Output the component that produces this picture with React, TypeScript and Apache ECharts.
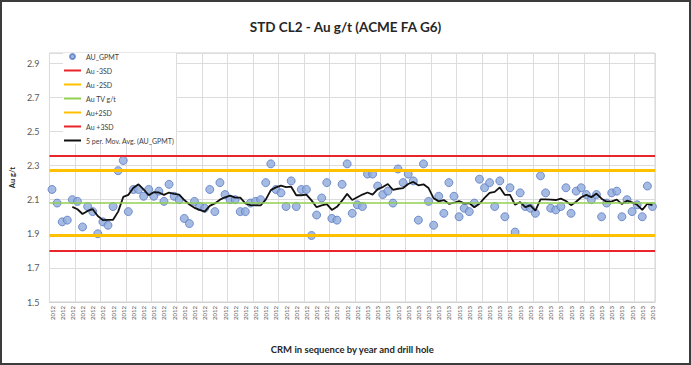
import React, { useEffect, useRef } from "react";
import * as echarts from "echarts";

const years = ["2012", "2013"];
const yearCounts = [62, 57];

const auGpmt = [
  2.16, 2.08, 1.97, 1.98, 2.10, 2.09, 1.94, 2.06, 2.03, 1.90,
  1.97, 1.95, 2.06, 2.27, 2.33, 2.03, 2.16, 2.16, 2.12, 2.16,
  2.12, 2.15, 2.09, 2.19, 2.12, 2.10, 1.99, 1.96, 2.09, 2.06,
  2.05, 2.16, 2.03, 2.20, 2.13, 2.10, 2.10, 2.03, 2.03, 2.08,
  2.09, 2.10,
  2.20, 2.31, 2.16, 2.14, 2.06, 2.21, 2.06, 2.16, 2.16, 1.89,
  2.01, 2.11, 2.20, 1.99, 1.98, 2.19, 2.31, 2.02, 2.07, 2.06,
  2.25, 2.25, 2.18, 2.13, 2.15, 2.08, 2.28, 2.20, 2.25, 2.21,
  1.98, 2.31, 2.09, 1.95, 2.12, 2.02, 2.20, 2.12, 2.00,
  2.05, 2.03, 2.08, 2.22, 2.17, 2.20, 2.06, 2.21, 2.00, 2.17,
  1.91, 2.14, 2.06, 2.05, 2.02, 2.24, 2.14, 2.05, 2.04, 2.06,
  2.17, 2.02, 2.15, 2.17, 2.13, 2.10, 2.13, 2.00, 2.08, 2.14,
  2.15, 2.00, 2.10, 2.03, 2.07, 2.00, 2.18, 2.06,
];

const limitNames = ["Au -3SD", "Au -2SD", "Au TV g/t", "Au+2SD", "Au +3SD"];
const limitValues = [1.80, 1.893, 2.08, 2.267, 2.36];
const limitColors = ["#e8252a", "#ffc000", "#92d050", "#ffc000", "#e8252a"];
const limitWidths = [2, 3, 1.5, 3, 2];

const maPeriod = 5;
const maName = "5 per. Mov. Avg. (AU_GPMT)";

export default function App() {
  const ref = useRef<HTMLDivElement>(null);
  useEffect(() => {
    if (!ref.current) return;
    const chart = echarts.init(ref.current, null, { renderer: "svg" });
    const categories: string[] = [];
    years.forEach((y, i) => {
      for (let k = 0; k < yearCounts[i]; k++) categories.push(y);
    });
    const ma = auGpmt.map((_, i) => {
      if (i < maPeriod - 1) return "-";
      let s = 0;
      for (let k = i - maPeriod + 1; k <= i; k++) s += auGpmt[k];
      return +(s / maPeriod).toFixed(4);
    });
    const limitSeries = limitNames.map((name, i) => ({
      name,
      type: "line",
      data: [],
      z: 1,
      symbol: "none",
      itemStyle: { color: limitColors[i] },
      lineStyle: { color: limitColors[i], width: limitWidths[i] },
      markLine: {
        silent: true,
        symbol: "none",
        label: { show: false },
        lineStyle: { color: limitColors[i], width: limitWidths[i], type: "solid" },
        data: [{ yAxis: limitValues[i] }],
      },
    }));
    const lineLegendItem = (name: string) => ({ name, itemStyle: { opacity: 0 } });
    chart.setOption({
      animation: false,
      backgroundColor: "#ffffff",
      title: {
        text: "STD CL2 - Au g/t (ACME FA G6)",
        left: "center",
        top: 15,
        textStyle: { fontFamily: "Lato", fontSize: 13.5, fontWeight: "bold", color: "#262626" },
      },
      graphic: [
        {
          type: "rect",
          shape: { x: 1, y: 1, width: 689, height: 363 },
          style: { fill: "none", stroke: "#3c3c3c", lineWidth: 2 },
          silent: true,
        },
      ],
      legend: {
        orient: "vertical",
        left: 63,
        top: 53,
        itemWidth: 17,
        itemHeight: 5,
        itemGap: 7,
        backgroundColor: "#ffffff",
        padding: [0, 2, 0, 0],
        textStyle: { fontFamily: "Lato", fontSize: 7, color: "#404040" },
        data: ["AU_GPMT", ...limitNames.map(lineLegendItem), lineLegendItem(maName)],
      },
      grid: { left: 45, right: 36, top: 53, bottom: 63, show: true, borderColor: "#d0d0d0", borderWidth: 1 },
      xAxis: {
        type: "category",
        data: categories,
        boundaryGap: true,
        axisLine: { show: true, lineStyle: { color: "#d0d0d0" } },
        axisTick: { show: false },
        axisLabel: {
          interval: 1,
          rotate: 90,
          fontFamily: "Lato",
          fontSize: 6,
          color: "#595959",
          margin: 4,
        },
        splitLine: { show: true, interval: 4, lineStyle: { color: "#dcdcdc", width: 1 } },
        name: "CRM in sequence by year and drill hole",
        nameLocation: "middle",
        nameGap: 42,
        nameTextStyle: { fontFamily: "Lato", fontSize: 9.5, fontWeight: "bold", color: "#262626" },
      },
      yAxis: {
        type: "value",
        min: 1.5,
        max: 2.96,
        interval: 0.2,
        axisLine: { show: false },
        axisTick: { show: false },
        axisLabel: {
          showMaxLabel: false,
          formatter: (v: number) => v.toFixed(1),
          fontFamily: "Lato",
          fontSize: 9,
          color: "#595959",
          margin: 10,
        },
        splitLine: { show: true, lineStyle: { color: "#dcdcdc" } },
        name: "Au g/t",
        nameLocation: "middle",
        nameGap: 31,
        nameTextStyle: { fontFamily: "Lato", fontSize: 7.5, fontWeight: "bold", color: "#262626" },
      },
      series: [
        {
          name: "AU_GPMT",
          type: "scatter",
          data: auGpmt,
          z: 3,
          symbol: "circle",
          symbolSize: 8,
          itemStyle: { color: "#8eaadb", borderColor: "#5b7cc4", borderWidth: 1 },
        },
        ...limitSeries,
        {
          name: maName,
          type: "line",
          data: ma,
          z: 4,
          symbol: "none",
          showSymbol: false,
          itemStyle: { color: "#111111" },
          lineStyle: { color: "#111111", width: 1.8 },
        },
      ],
    });
    return () => chart.dispose();
  }, []);
  return (
    <div
      ref={ref}
      style={{ position: "absolute", left: 0, top: 0, width: 691, height: 365 }}
    />
  );
}
